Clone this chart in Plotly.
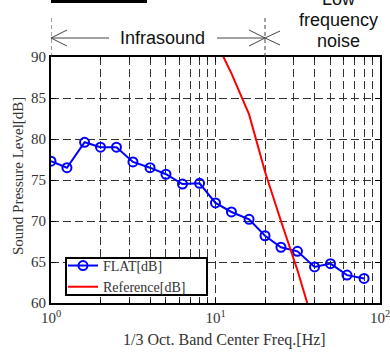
import plotly.graph_objects as go

# 1/3 octave band centre frequencies [Hz] and measured FLAT levels [dB]
freq = [1, 1.25, 1.6, 2, 2.5, 3.15, 4, 5, 6.3, 8, 10, 12.5, 16, 20, 25, 31.5, 40, 50, 63, 80]
flat_db = [77.3, 76.5, 79.6, 79.0, 79.0, 77.2, 76.5, 75.7, 74.5, 74.6,
           72.2, 71.1, 70.2, 68.2, 66.8, 66.3, 64.4, 64.8, 63.4, 63.0]

# Reference values for low-frequency noise [dB]
ref_freq = [10, 12.5, 16, 20, 25, 31.5, 40, 50, 63, 80]
ref_db = [92, 88, 83, 76, 70, 64, 57, 52, 47, 41]

# Axis ticks
x_major = [1, 10, 100]
x_major_text = ["10<sup>0</sup>", "10<sup>1</sup>", "10<sup>2</sup>"]
x_minor = [2, 3, 4, 5, 6, 7, 8, 9, 20, 30, 40, 50, 60, 70, 80, 90]
y_ticks = [60, 65, 70, 75, 80, 85, 90]

# Band boundaries marked above the plot
infra_lo, infra_hi = 1, 20

SERIF = "Liberation Serif"
SANS = "Liberation Sans"
GRID = "#333333"

fig = go.Figure()
fig.add_trace(go.Scatter(
    x=freq, y=flat_db, name="FLAT[dB]", mode="lines+markers",
    line=dict(color="#0000ff", width=2),
    marker=dict(symbol="circle-open", size=9, color="#0000ff", line=dict(width=2)),
))
fig.add_trace(go.Scatter(
    x=ref_freq, y=ref_db, name="Reference[dB]", mode="lines",
    line=dict(color="#ff0000", width=2),
))

fig.update_xaxes(
    type="log", range=[0, 2], automargin=False, ticklabeloverflow="allow",
    tickvals=x_major, ticktext=x_major_text,
    tickfont=dict(family=SERIF, size=15, color="#333333"),
    showgrid=True, gridcolor=GRID, griddash="8px,4px", gridwidth=1,
    minor=dict(tickvals=x_minor, showgrid=True, gridcolor=GRID, griddash="8px,4px",
               gridwidth=1, ticks="inside", ticklen=3, tickcolor="black"),
    ticks="inside", ticklen=5, tickcolor="black",
    showline=True, linecolor="black", linewidth=2, mirror="ticks",
    zeroline=False,
)
fig.update_yaxes(
    range=[60, 90], tickvals=y_ticks, automargin=False, ticklabeloverflow="allow",
    tickfont=dict(family=SERIF, size=15, color="#333333"),
    showgrid=True, gridcolor=GRID, griddash="8px,4px", gridwidth=1,
    ticks="inside", ticklen=5, tickcolor="black",
    showline=True, linecolor="black", linewidth=2, mirror="ticks",
    zeroline=False,
)

shapes = []
# dashed boundary lines above the plot frame
for xb in (infra_lo, infra_hi):
    shapes.append(dict(type="line", xref="x", yref="paper", x0=xb, x1=xb,
                       ysizemode="pixel", yanchor=1, y0=0, y1=42,
                       line=dict(color="#444444", width=1, dash="4px,3px")))
# Infrasound double arrow
shapes.append(dict(type="path", xref="x", yref="paper", xsizemode="pixel", ysizemode="pixel",
                   xanchor=infra_lo, yanchor=1,
                   path="M 58,19 L 0,19 M 16,27 L 0,19 L 16,11",
                   line=dict(color="#444444", width=1)))
shapes.append(dict(type="path", xref="x", yref="paper", xsizemode="pixel", ysizemode="pixel",
                   xanchor=infra_hi, yanchor=1,
                   path="M -48,19 L 0,19 M -16,27 L 0,19 L -16,11",
                   line=dict(color="#444444", width=1)))
# low-frequency-noise arrow head
shapes.append(dict(type="path", xref="x", yref="paper", xsizemode="pixel", ysizemode="pixel",
                   xanchor=infra_hi, yanchor=1,
                   path="M 15,26 L 0,19 L 15,12",
                   line=dict(color="#444444", width=1)))
# rule at the top left
shapes.append(dict(type="rect", xref="x", yref="paper", xsizemode="pixel", ysizemode="pixel",
                   xanchor=infra_lo, yanchor=1, x0=-18, x1=96, y0=54, y1=57,
                   fillcolor="black", line=dict(width=0)))
# compact frame behind the legend entries
shapes.append(dict(type="rect", xref="x", yref="paper", xsizemode="pixel", ysizemode="pixel",
                   xanchor=infra_lo, yanchor=0, x0=15, x1=156, y0=8, y1=45,
                   fillcolor="white", line=dict(color="black", width=2), layer="above"))

annotations = [
    dict(text="Infrasound", xref="x", yref="paper", x=0.68, y=1, yshift=19,
         showarrow=False, xanchor="center", yanchor="middle",
         font=dict(family=SANS, size=18, color="#111111")),
    dict(text="Low", xref="x", yref="paper", x=1.75, y=1, yshift=58,
         showarrow=False, xanchor="center", yanchor="middle",
         font=dict(family=SANS, size=18, color="#111111")),
    dict(text="frequency", xref="x", yref="paper", x=1.75, y=1, yshift=37,
         showarrow=False, xanchor="center", yanchor="middle",
         font=dict(family=SANS, size=18, color="#111111")),
    dict(text="noise", xref="x", yref="paper", x=1.75, y=1, yshift=16,
         showarrow=False, xanchor="center", yanchor="middle",
         font=dict(family=SANS, size=18, color="#111111")),
    # axis titles
    dict(text="1/3 Oct. Band Center Freq.[Hz]", xref="paper", yref="paper",
         x=0.5, xshift=9, y=0, yshift=-37, showarrow=False,
         xanchor="center", yanchor="middle",
         font=dict(family=SERIF, size=16, color="#333333")),
    dict(text="Sound Pressure Level[dB]", xref="paper", yref="paper",
         x=0, xshift=-33, y=0.5, yshift=4, showarrow=False, textangle=-90,
         xanchor="center", yanchor="middle",
         font=dict(family=SERIF, size=15, color="#333333")),
]

fig.update_layout(
    width=390, height=352,
    margin=dict(l=51, r=10, t=57, b=49, autoexpand=False),
    paper_bgcolor="white", plot_bgcolor="white",
    showlegend=True,
    legend=dict(x=0.0365, y=0.108, xanchor="left", yanchor="middle",
                bgcolor="rgba(0,0,0,0)", borderwidth=0,
                font=dict(family=SERIF, size=14, color="#333333"),
                tracegroupgap=0, itemwidth=30),
    shapes=shapes,
    annotations=annotations,
)

fig.write_html("out.html")
